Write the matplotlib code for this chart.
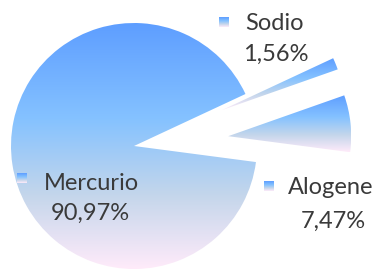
import numpy as np
import matplotlib
matplotlib.use("Agg")
import matplotlib.pyplot as plt
from matplotlib.colors import LinearSegmentedColormap

labels = ["Mercurio", "Sodio", "Alogene"]
values = [90.97, 1.56, 7.47]
value_texts = ["90,97%", "1,56%", "7,47%"]

plt.rcParams['font.family'] = ['Lato', 'DejaVu Sans']

W, H = 379, 269
fig = plt.figure(figsize=(W / 100, H / 100), dpi=100)
ax = fig.add_axes([0, 0, 1, 1])

cx, cy, r = 134, 146, 123  # pixel geometry

cmap = LinearSegmentedColormap.from_list(
    "daybreak", [(0, "#5E9EFF"), (0.39, "#85C2FF"), (0.70, "#C4D6EB"), (1.0, "#FFEBFA")])

explode = [0, 0.77, 0.77]
wedges, _ = ax.pie(values, explode=explode, startangle=-7.5, counterclock=False,
                   radius=1, center=(0, 0), frame=True)
ax.set_xlim(-cx / r, (W - cx) / r)
ax.set_ylim(-(H - cy) / r, cy / r)
ax.set_aspect('equal')
ax.axis('off')

grad = np.linspace(0, 1, 256).reshape(-1, 1)
for w in wedges:
    w.set_facecolor('none')
    w.set_edgecolor('none')
    ext = w.get_path().get_extents()
    im = ax.imshow(grad, cmap=cmap, aspect='auto', origin='upper',
                   extent=[ext.x0, ext.x1, ext.y0, ext.y1], interpolation='bilinear', zorder=1)
    im.set_clip_path(w)

# labels (pixel positions)
label_pos = {
    "Mercurio": ((91, 184), (90, 213), (22, 178)),
    "Sodio": ((274, 24), (276, 54), (224, 22)),
    "Alogene": ((331, 188), (333, 221), (269, 186)),
}
for lab, vt in zip(labels, value_texts):
    (lx, ly), (vx, vy), (sx, sy) = label_pos[lab]
    fig.text(lx / W, 1 - ly / H, lab, ha='center', va='center', fontsize=17, color='#3a3a3a')
    fig.text(vx / W, 1 - vy / H, vt, ha='center', va='center', fontsize=17, color='#3a3a3a')
    sq = 10
    sax = fig.add_axes([(sx - sq / 2) / W, 1 - (sy + sq / 2) / H, sq / W, sq / H])
    sax.imshow(grad, cmap=cmap, aspect='auto', interpolation='bilinear')
    sax.axis('off')

fig.savefig("out.png", dpi=100)
